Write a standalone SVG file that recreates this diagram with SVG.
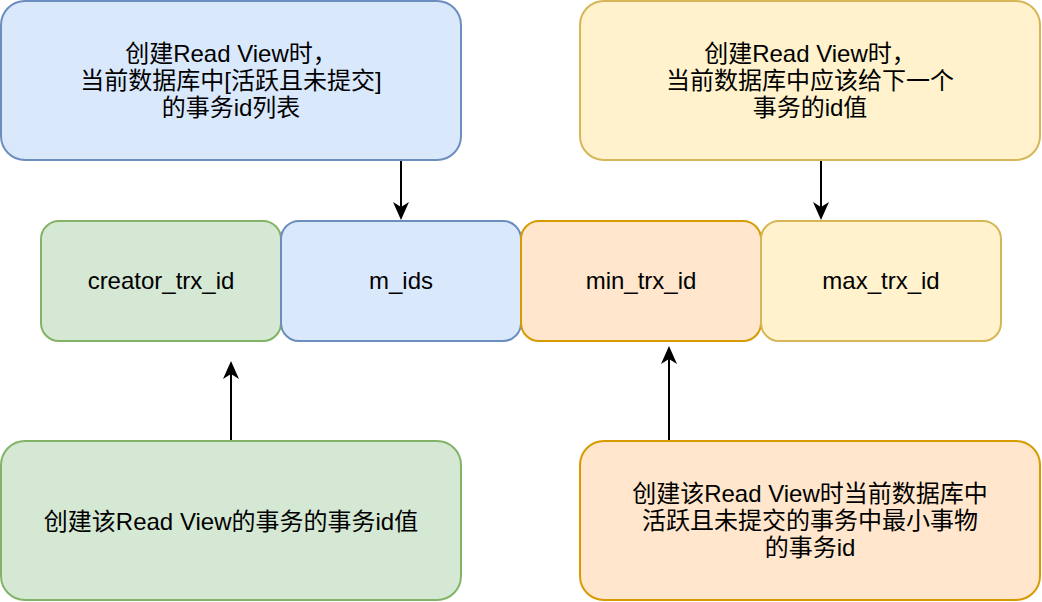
<svg xmlns="http://www.w3.org/2000/svg" width="1042" height="602" viewBox="0 0 1042 602">
  <style>
    .t { font-family: "Liberation Sans", "Noto Sans CJK SC", sans-serif; font-size: 24px; fill: #000; text-anchor: middle; }
    .blue { fill: #dae8fc; stroke: #6c8ebf; stroke-width: 2; }
    .yellow { fill: #fff2cc; stroke: #d6b656; stroke-width: 2; }
    .orange { fill: #ffe6cc; stroke: #d79b00; stroke-width: 2; }
    .green { fill: #d5e8d4; stroke: #82b366; stroke-width: 2; }
    .conn { fill: none; stroke: #000; stroke-width: 2; marker-end: url(#arrow); }
  </style>
  <defs>
    <marker id="arrow" viewBox="0 0 18 16" refX="10" refY="8" markerWidth="18" markerHeight="16" markerUnits="userSpaceOnUse" orient="auto">
      <path d="M0,0 L18,8 L0,16 L5,8 Z" fill="#000"/>
    </marker>
  </defs>
  <rect width="1042" height="602" fill="#ffffff"/>

  <g id="note-mids">
    <rect class="blue" x="1" y="1" width="460" height="159" rx="24" ry="24"/>
    <text class="t" x="231" y="62">创建Read View时，</text>
    <text class="t" x="231" y="89">当前数据库中[活跃且未提交]</text>
    <text class="t" x="231" y="116">的事务id列表</text>
  </g>

  <g id="note-max">
    <rect class="yellow" x="580" y="1" width="460" height="159" rx="24" ry="24"/>
    <text class="t" x="810" y="62">创建Read View时，</text>
    <text class="t" x="810" y="89">当前数据库中应该给下一个</text>
    <text class="t" x="810" y="116">事务的id值</text>
  </g>

  <g id="creator_trx_id">
    <rect class="green" x="41" y="221" width="240" height="120" rx="18" ry="18"/>
    <text class="t" x="161" y="289">creator_trx_id</text>
  </g>

  <g id="m_ids">
    <rect class="blue" x="281" y="221" width="240" height="120" rx="18" ry="18"/>
    <text class="t" x="401" y="289">m_ids</text>
  </g>

  <g id="min_trx_id">
    <rect class="orange" x="521" y="221" width="240" height="120" rx="18" ry="18"/>
    <text class="t" x="641" y="289">min_trx_id</text>
  </g>

  <g id="max_trx_id">
    <rect class="yellow" x="761" y="221" width="240" height="120" rx="18" ry="18"/>
    <text class="t" x="881" y="289">max_trx_id</text>
  </g>

  <g id="note-creator">
    <rect class="green" x="1" y="441" width="460" height="159" rx="24" ry="24"/>
    <text class="t" x="231" y="530">创建该Read View的事务的事务id值</text>
  </g>

  <g id="note-min">
    <rect class="orange" x="580" y="441" width="460" height="159" rx="24" ry="24"/>
    <text class="t" x="810" y="502">创建该Read View时当前数据库中</text>
    <text class="t" x="810" y="529">活跃且未提交的事务中最小事物</text>
    <text class="t" x="810" y="556">的事务id</text>
  </g>

  <g id="connectors">
    <path class="conn" d="M401,161 L401,212"/>
    <path class="conn" d="M821,161 L821,212"/>
    <path class="conn" d="M231,440 L231,369"/>
    <path class="conn" d="M669,440 L669,354"/>
  </g>
</svg>
